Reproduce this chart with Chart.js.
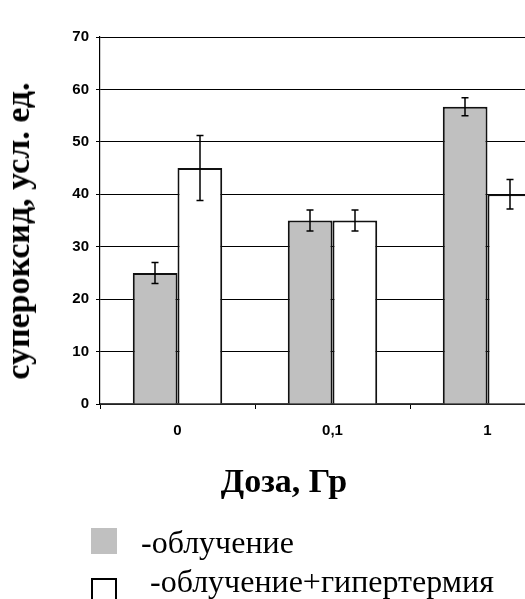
<!DOCTYPE html>
<html>
<head>
<meta charset="utf-8">
<script src="https://cdn.jsdelivr.net/npm/chart.js@4"></script>
<style>
  html, body { margin: 0; padding: 0; background: #fff; overflow: hidden; width: 525px; height: 599px; }
  #wrap { position: absolute; left: 0; top: 0; width: 600px; height: 599px; }
  .serif { font-family: "Times New Roman", "Liberation Serif", serif; color: #000; position: absolute; white-space: nowrap; }
  #ytitle { font-weight: bold; font-size: 34px; left: 18px; top: 231px; transform: translate(-50%, -50%) rotate(-90deg); line-height: 1; }
  #xtitle { font-weight: bold; font-size: 34px; left: 284px; top: 464px; transform: translateX(-50%); line-height: 1; }
  .sw { position: absolute; width: 26px; height: 26px; box-sizing: border-box; }
  .lg { font-size: 32px; line-height: 1; }
</style>
</head>
<body>
<div id="wrap"><canvas id="superoxideChart"></canvas></div>
<div id="ytitle" class="serif">супероксид, усл. ед.</div>
<div id="xtitle" class="serif">Доза, Гр</div>
<div class="sw" style="left:91px; top:528px; background:#c0c0c0;"></div>
<div class="serif lg" style="left:141px; top:526px;">-облучение</div>
<div class="sw" style="left:91px; top:578px; background:#fff; border:2px solid #000;"></div>
<div class="serif lg" style="left:150px; top:565px;">-облучение+гипертермия</div>
<script>
    // Значения
    const doses = ['0', '0,1', '1'];
    const irradiation = [25, 35, 56.7];
    const irradiationErr = [2, 2, 1.7];
    const hyperthermia = [45, 35, 40];
    const hyperthermiaErr = [6.2, 2, 2.8];
    const yTicks = [0, 10, 20, 30, 40, 50, 60, 70];

    const errors = [irradiationErr, hyperthermiaErr];

    // Планки погрешностей
    const errorBars = {
        id: 'errorBars',
        afterDatasetsDraw(chart) {
            const ctx = chart.ctx;
            const yScale = chart.scales.y;
            ctx.save();
            ctx.strokeStyle = '#000';
            ctx.lineWidth = 1.5;
            chart.data.datasets.forEach((ds, i) => {
                const meta = chart.getDatasetMeta(i);
                meta.data.forEach((bar, j) => {
                    const v = ds.data[j];
                    const e = errors[i][j];
                    const x = Math.round(bar.x);
                    const top = yScale.getPixelForValue(v + e);
                    const bot = yScale.getPixelForValue(v - e);
                    ctx.beginPath();
                    ctx.moveTo(x, top); ctx.lineTo(x, bot);
                    ctx.moveTo(x - 3.5, top); ctx.lineTo(x + 3.5, top);
                    ctx.moveTo(x - 3.5, bot); ctx.lineTo(x + 3.5, bot);
                    ctx.stroke();
                });
            });
            ctx.restore();
        }
    };

    const tickFont = { family: '"Liberation Sans Narrow", "Arial Narrow", Arial, sans-serif', size: 15, weight: 'bold' };

    new Chart(document.getElementById('superoxideChart').getContext('2d'), {
        type: 'bar',
        data: {
            labels: doses,
            datasets: [{
                label: '-облучение',
                data: irradiation,
                backgroundColor: '#c0c0c0',
                borderColor: '#111',
                borderWidth: 2,
                categoryPercentage: 0.577,
                barPercentage: 1
            }, {
                label: '-облучение+гипертермия',
                data: hyperthermia,
                backgroundColor: '#fff',
                borderColor: '#111',
                borderWidth: 2,
                categoryPercentage: 0.577,
                barPercentage: 1
            }]
        },
        options: {
            responsive: true,
            maintainAspectRatio: false,
            animation: false,
            layout: { padding: { top: 37, right: 35, bottom: 0, left: 0 } },
            plugins: {
                legend: { display: false },
                tooltip: { enabled: false }
            },
            scales: {
                x: {
                    grid: { offset: true, drawOnChartArea: false, tickLength: 5, color: '#000' },
                    border: { color: '#444', width: 1.5 },
                    ticks: { color: '#000', font: tickFont, padding: 13 },
                    afterFit: (scale) => { scale.height = 195; }
                },
                y: {
                    min: 0,
                    max: 70,
                    afterBuildTicks: (scale) => { scale.ticks = yTicks.map(v => ({ value: v })); },
                    grid: { color: '#000', lineWidth: 1, tickLength: 4 },
                    border: { color: '#000', width: 1.2 },
                    ticks: { color: '#000', font: tickFont, padding: 7 },
                    afterFit: (scale) => { scale.width = 100; }
                }
            }
        },
        plugins: [errorBars]
    });
</script>
</body>
</html>
